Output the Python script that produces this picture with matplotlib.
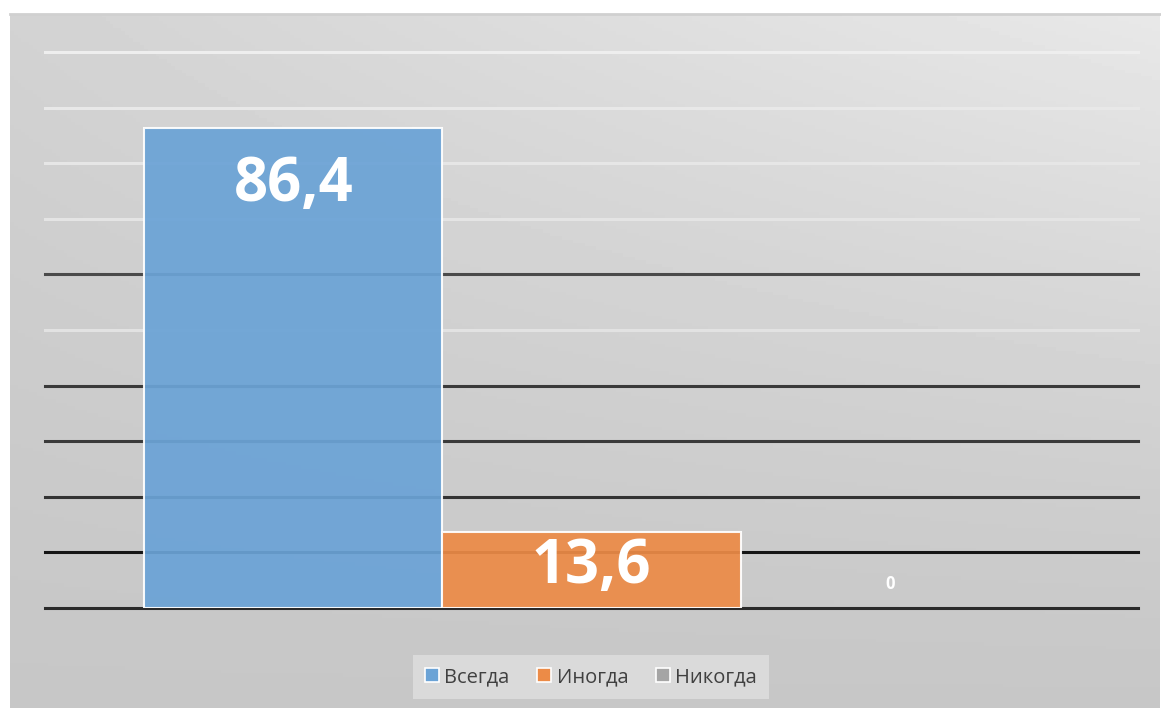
import matplotlib.pyplot as plt
import numpy as np
from matplotlib.patches import Patch

# data
series = ["Всегда", "Иногда", "Никогда"]
values = [86.4, 13.6, 0]
labels = ["86,4", "13,6", "0"]
colors = ["#6ba3d6", "#ec8b47", "#a5a5a5"]

plt.rcParams['font.family'] = ['Open Sans', 'DejaVu Sans']

W, H = 1161, 708
fig = plt.figure(figsize=(W / 100, H / 100), dpi=100)
fig.patch.set_facecolor("white")

# gradient background panel
bg = fig.add_axes([10 / W, 0, 1150 / W, (H - 14) / H])
gx = np.linspace(0, 1, 300)
gy = np.linspace(0, 1, 200)
X, Y = np.meshgrid(gx, gy)
grad = 0.78 + 0.13 * (1 - Y) ** 1.3 * (0.35 + 0.65 * X)
bg.imshow(grad, cmap="gray", vmin=0, vmax=1, aspect="auto", extent=[0, 1, 0, 1], origin="upper")
bg.set_xlim(0, 1)
bg.set_ylim(0, 1)
bg.set_xticks([])
bg.set_yticks([])
for s in bg.spines.values():
    s.set_visible(False)
bg.spines["top"].set_visible(True)
bg.spines["top"].set_color("#d0d0d0")
bg.spines["top"].set_linewidth(2)

# main plot
ax = fig.add_axes([45 / W, (H - 608) / H, (1138 - 45) / W, (608 - 52) / H])
ax.patch.set_alpha(0)
ax.set_ylim(0, 100)
ax.set_xlim(-0.833, 2.833)
ax.set_xticks([])
ax.set_yticks([])
for s in ax.spines.values():
    s.set_visible(False)

grid_colors = ["#2a2a2a", "#151515", "#333333", "#3a3a3a", "#3a3a3a",
               "#e2e2e2", "#4a4a4a", "#e4e4e4", "#e6e6e6", "#e8e8e8", "#eeeeee"]
for i, c in enumerate(grid_colors):
    ax.axhline(i * 10, color=c, lw=2.2, zorder=1, clip_on=False)

x = np.arange(len(series))
bars = ax.bar(x, values, width=1.0, color=colors, edgecolor="white",
              linewidth=1.5, alpha=0.93, zorder=2)
for b, v in zip(bars, values):
    b.set_visible(v > 0)

big_font = dict(color="white", fontweight="bold", fontsize=43, ha="center", va="center")
ax.text(x[0], values[0] - 10.5, labels[0], zorder=3, **big_font)
ax.text(x[1], values[1] / 2 + 0.5, labels[1], zorder=3, **big_font)
ax.text(x[2], 4.3, labels[2], color="white", fontweight="bold", fontsize=12,
        ha="center", va="center", zorder=3)

handles = [Patch(facecolor=c, edgecolor="white", linewidth=1.2) for c in colors]
leg = fig.legend(handles, series, loc="center", bbox_to_anchor=(591 / W, (H - 677) / H),
                 ncol=3, frameon=True, fancybox=False, fontsize=14.5,
                 handlelength=0.7, handleheight=0.7, handletextpad=0.25,
                 columnspacing=1.4, borderpad=0.6, borderaxespad=0,
                 labelcolor="#404040")
leg.get_frame().set_facecolor("#dadada")
leg.get_frame().set_edgecolor("none")
leg.get_frame().set_alpha(1)

fig.savefig("out.png", dpi=100)
